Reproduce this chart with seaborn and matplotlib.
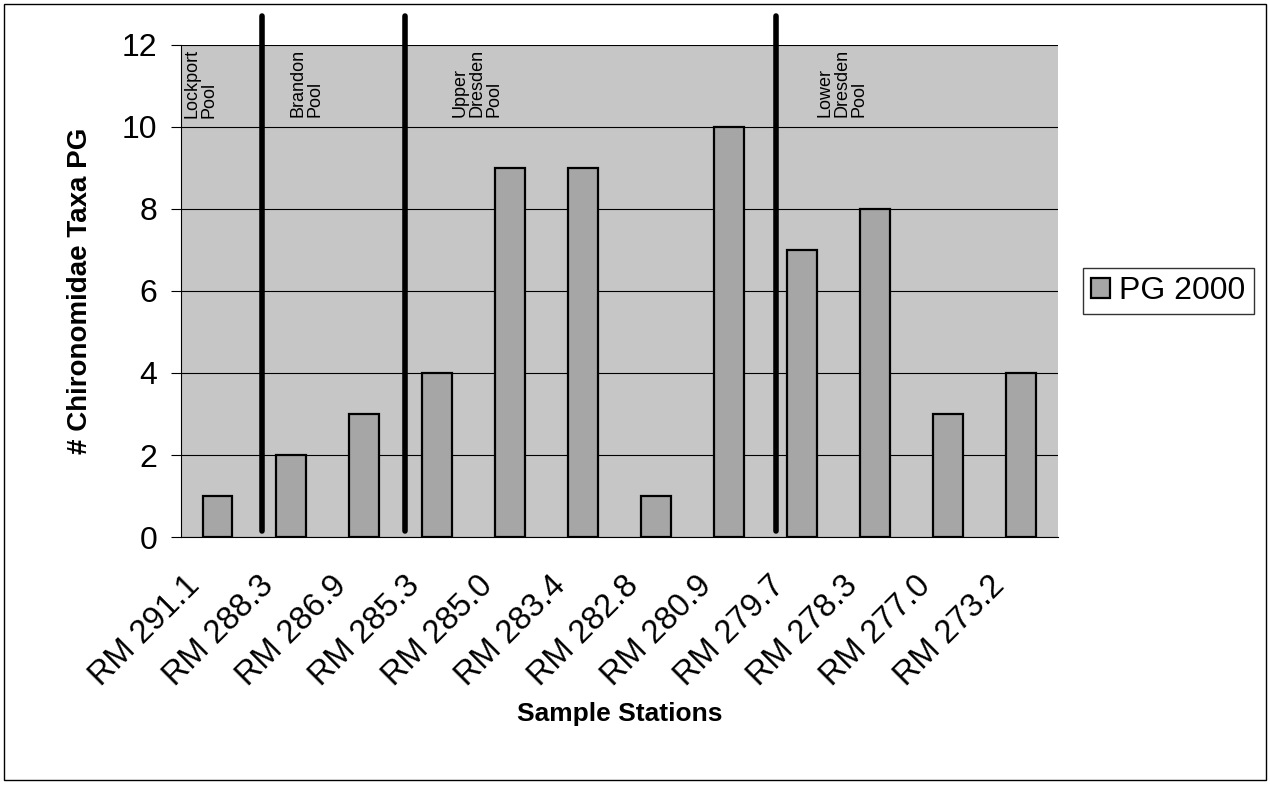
import pandas as pd
import numpy as np
import matplotlib
matplotlib.use('Agg')
import matplotlib.pyplot as plt
import matplotlib.transforms as mtransforms
import seaborn as sns
from matplotlib.patches import Rectangle

# Data
stations = ['RM 291.1', 'RM 288.3', 'RM 286.9', 'RM 285.3', 'RM 285.0', 'RM 283.4',
            'RM 282.8', 'RM 280.9', 'RM 279.7', 'RM 278.3', 'RM 277.0', 'RM 273.2']
taxa_pg = [1, 2, 3, 4, 9, 9, 1, 10, 7, 8, 3, 4]
series_name = 'PG 2000'

# Pool divider positions (category units) and pool labels
divider_pos = [0.61, 2.57, 7.64]
pool_labels = ['Lockport\nPool', 'Brandon\nPool', 'Upper\nDresden\nPool', 'Lower\nDresden\nPool']
pool_label_x = [-0.46, 0.98, 3.2, 8.2]

df = pd.DataFrame({'Station': stations, 'Taxa': taxa_pg, 'Series': series_name})

sns.set_style('white')
plt.rcParams['font.family'] = ['Liberation Sans', 'DejaVu Sans']
plt.rcParams['text.color'] = 'black'
plt.rcParams['axes.labelcolor'] = 'black'
plt.rcParams['xtick.color'] = 'black'
plt.rcParams['ytick.color'] = 'black'

fig = plt.figure(figsize=(12.7, 7.88), dpi=100)
ax = fig.add_axes([0.1425, 0.3185, 0.6905, 0.6245])
ax.set_facecolor('#c6c6c6')

sns.barplot(data=df, x='Station', y='Taxa', hue='Series', order=stations,
            palette=['#a6a6a6'], edgecolor='black', linewidth=1.6,
            width=0.41, ax=ax, zorder=3)

ax.set_ylim(0, 12)
ax.set_xlim(-0.5, len(stations) - 0.5)
ax.set_yticks(range(0, 13, 2))
ax.yaxis.grid(True, color='black', linewidth=0.8, zorder=0)
ax.set_axisbelow(True)
for s in ax.spines.values():
    s.set_visible(False)
ax.spines['left'].set_visible(True)
ax.spines['bottom'].set_visible(True)
ax.spines['left'].set_color('black')
ax.spines['bottom'].set_color('black')

# rotated station labels, shifted like the original
ax.set_xticks(np.arange(len(stations)))
ax.set_xticklabels(stations, rotation=45, ha='right', va='center',
                   rotation_mode='anchor', fontsize=23.5)
ax.tick_params(axis='x', length=0, pad=0)
shift = mtransforms.ScaledTranslation(-0.22, -0.44, fig.dpi_scale_trans)
for lab in ax.get_xticklabels():
    lab.set_transform(lab.get_transform() + shift)
ax.set_xticks(np.arange(-0.5, len(stations), 1), minor=True)
ax.tick_params(axis='x', which='minor', length=7, color='black')
ax.tick_params(axis='y', labelsize=23, length=7, color='black', left=True, pad=10)

ax.set_xlabel('Sample Stations', fontsize=19, fontweight='bold')
ax.set_ylabel('# Chironomidae Taxa PG', fontsize=20, fontweight='bold')
ax.xaxis.set_label_coords(0.5, -0.335)
ax.yaxis.set_label_coords(-0.1, 0.5)

# Pool divider lines
for xp in divider_pos:
    ax.plot([xp, xp], [0.15, 12.7], color='black', linewidth=4, solid_capstyle='round',
            clip_on=False, zorder=5)

for xl, lab in zip(pool_label_x, pool_labels):
    ax.text(xl, 11.9, lab, rotation=90, ha='left', va='top', fontsize=13,
            linespacing=1.0, zorder=6)

# Legend
handles, _ = ax.get_legend_handles_labels()
leg = ax.legend(handles, [series_name], loc='center left', bbox_to_anchor=(1.01, 0.5),
                fontsize=23, frameon=True, fancybox=False, edgecolor='black',
                handlelength=0.6, handleheight=0.6, handletextpad=0.3, borderpad=0.25)
leg.get_frame().set_linewidth(1)

# Outer border around the whole chart
fig.patches.append(Rectangle((0.003, 0.01), 0.994, 0.985, transform=fig.transFigure,
                             fill=False, edgecolor='black', linewidth=1))

fig.savefig('out.png', dpi=100)
